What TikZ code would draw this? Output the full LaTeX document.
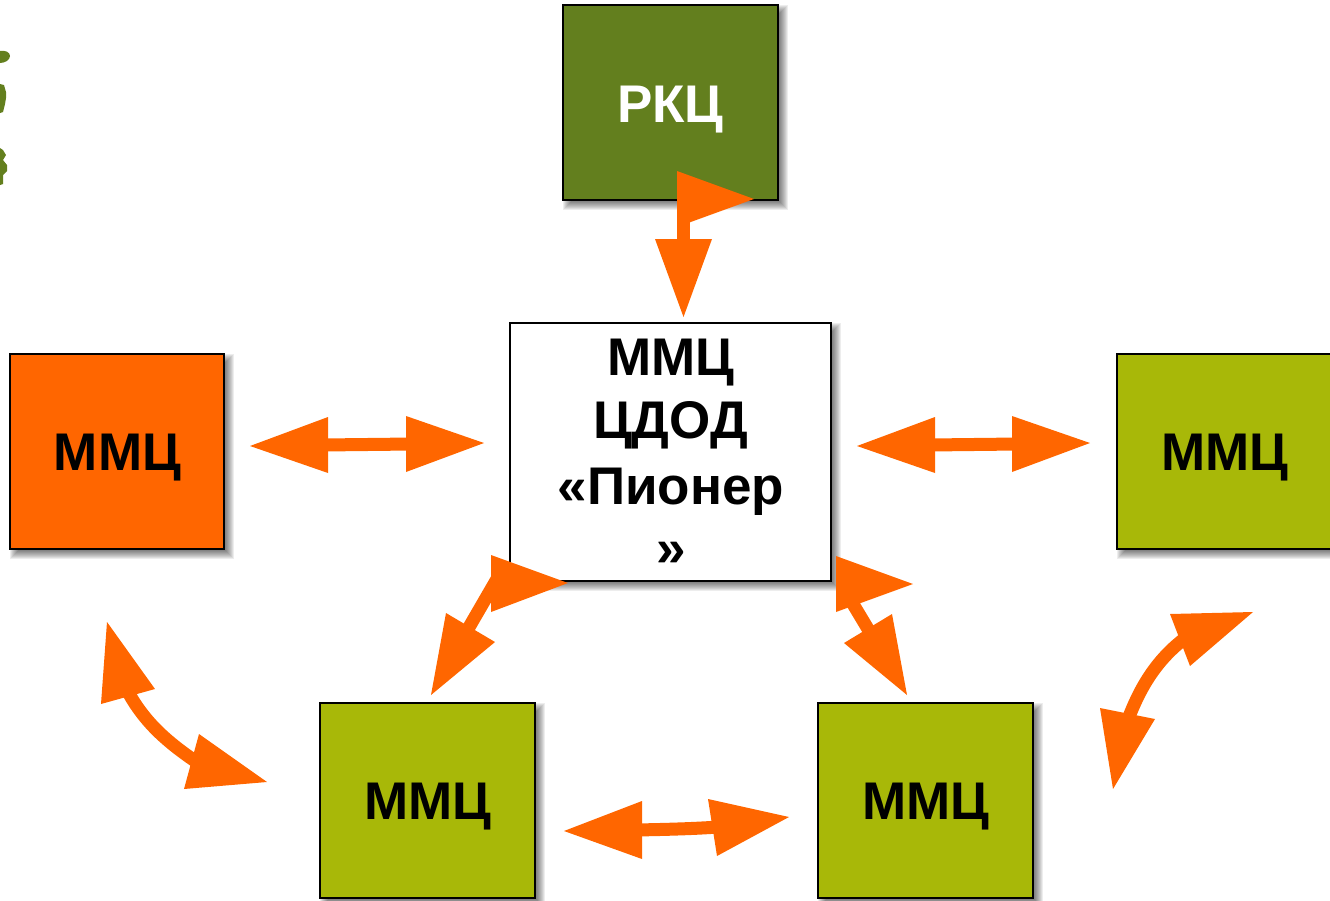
\documentclass[tikz,border=0pt]{standalone}
\usepackage{fontspec}
\setmainfont{Liberation Sans}
\definecolor{darkgrn}{HTML}{637F1E}
\definecolor{olivegrn}{HTML}{A8B808}
\definecolor{arroworange}{HTML}{FF6600}
\tikzset{
  boxbase/.style={draw=black,line width=1.6pt,anchor=north west,inner sep=0pt,outer sep=0pt},
  boxlabel/.style={anchor=base,inner sep=0pt,font=\bfseries\fontsize{53}{53}\selectfont},
  shaft/.style={draw=arroworange,line width=13pt},
  headfill/.style={fill=arroworange,draw=none},
}
\newcommand{\softshadow}[4]{%
  \foreach \d in {-4,-3,...,5}{%
    \fill[black,opacity=0.07] (#1+5-\d,#2+5-\d) rectangle (#3+5+\d,#4+5+\d);
  }%
}
\newcommand{\mybox}[6]{% name, x0,y0,x1,y1, fill
  \softshadow{#2}{#3}{#4}{#5}
  \node[boxbase,fill=#6,minimum width=#4pt-#2pt,minimum height=#5pt-#3pt] (#1) at (#2,#3) {};
}
\begin{document}
\begin{tikzpicture}[x=1pt,y=-1pt]
\useasboundingbox (0,0) rectangle (1330,900);
% green fragments at the left edge
\fill[darkgrn] (0,51) .. controls (5,50) and (10,52) .. (10,56) .. controls (10,60) and (5,63) .. (0,63) -- cycle;
\fill[darkgrn] (0,84) -- (4,85) -- (6,92) -- (6,98) -- (5,104) -- (3,112) -- (0,113) -- cycle;
\fill[darkgrn] (0,148) -- (3,150) -- (6,155) -- (3,160) -- (7,165) -- (7,171) -- (3,175) -- (3,184) -- (0,185) -- cycle;
% boxes
\mybox{rkc}{563}{5}{778}{200}{darkgrn}
\mybox{center}{510}{323}{831}{581}{white}
\mybox{left}{10}{354}{224}{549}{arroworange}
\mybox{right}{1117}{354}{1336}{549}{olivegrn}
\mybox{bl}{320}{703}{535}{898}{olivegrn}
\mybox{br}{818}{703}{1033}{898}{olivegrn}
% labels
\node[boxlabel,text=white] (trkc) at (670.5,122) {РКЦ};
\node[boxlabel] (tc1) at (670.5,375) {ММЦ};
\node[boxlabel] (tc2) at (670.5,438) {ЦДОД};
\node[boxlabel] (tc3) at (671,504) {«Пионер};
\node[boxlabel] (tc4) at (671.5,566) {»};
\node[boxlabel] (tl) at (117.5,470) {ММЦ};
\node[boxlabel] (tr) at (1224.5,470) {ММЦ};
\node[boxlabel] (tbl) at (428,819) {ММЦ};
\node[boxlabel] (tbr) at (925.5,819) {ММЦ};
% connector end points
\coordinate (a1) at (683,210); \coordinate (a2) at (683,245);
\coordinate (b1) at (322,445); \coordinate (b2) at (412,444);
\coordinate (c1) at (929,445); \coordinate (c2) at (1018,444);
\coordinate (d1) at (636,830); \coordinate (d2) at (718,827);
\coordinate (e1) at (497,579); \coordinate (e2) at (468,629);
\coordinate (f1) at (850,599); \coordinate (f2) at (871,634);
\coordinate (g1) at (127,690); \coordinate (g2) at (198,763);
\coordinate (h1) at (1127,722); \coordinate (h2) at (1188,636);
% shafts
\draw[shaft] (a1) -- (a2);
\draw[shaft] (b1) -- (b2);
\draw[shaft] (c1) -- (c2);
\draw[shaft] (d1) .. controls (660,829.5) and (690,829) .. (d2);
\draw[shaft] (e1) -- (e2);
\draw[shaft] (f1) -- (f2);
\draw[shaft] (g1) .. controls (144,722) and (167,742) .. (g2);
\draw[shaft] (h1) .. controls (1139,690) and (1155,660) .. (h2);
% heads
\fill[headfill] (677,171) -- (754,199) -- (677,227) -- cycle;
\fill[headfill] (655,239) -- (712,239) -- (683.5,317) -- cycle;
\fill[headfill] (250,446) -- (328,417) -- (328,473) -- cycle;
\fill[headfill] (484,443) -- (406,416) -- (406,472) -- cycle;
\fill[headfill] (857,446) -- (935,417) -- (935,473) -- cycle;
\fill[headfill] (1090,443) -- (1012,416) -- (1012,472) -- cycle;
\fill[headfill] (564,831) -- (642,801) -- (642,859) -- cycle;
\fill[headfill] (789,817) -- (708,799) -- (717,856) -- cycle;
\fill[headfill] (491,555) -- (568,583) -- (491,612) -- cycle;
\fill[headfill] (446,613) -- (495,642) -- (431,695) -- cycle;
\fill[headfill] (836,556) -- (913,584) -- (836,612) -- cycle;
\fill[headfill] (892,614) -- (907,695) -- (844,643) -- cycle;
\fill[headfill] (107,622) -- (155,689) -- (101,704) -- cycle;
\fill[headfill] (199,734) -- (267,782) -- (184,789) -- cycle;
\fill[headfill] (1170,614) -- (1253,612) -- (1190,666) -- cycle;
\fill[headfill] (1100,708) -- (1155,719) -- (1113,789) -- cycle;
\end{tikzpicture}
\end{document}
